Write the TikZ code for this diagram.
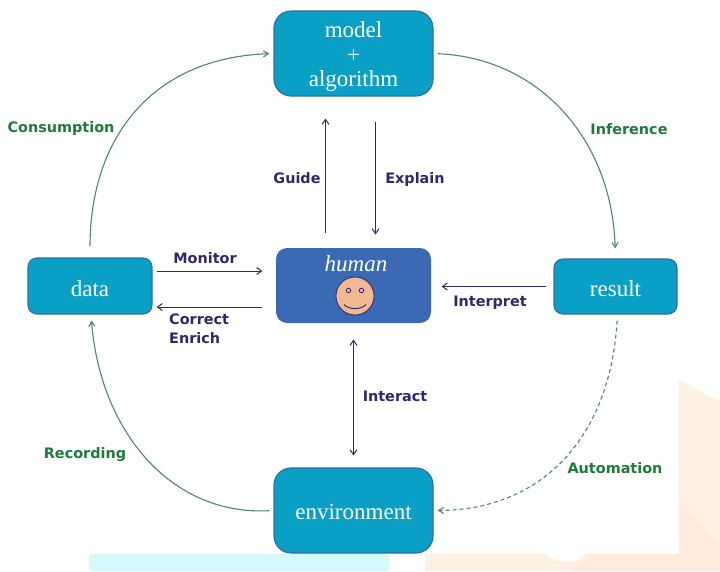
\documentclass[tikz,border=0pt]{standalone}
\usepackage{fontspec}
\setmainfont{Liberation Serif}
\newfontfamily\labelfont{DejaVu Sans}
\usetikzlibrary{arrows.meta}
\definecolor{boxfill}{HTML}{0AA0C6}
\definecolor{boxline}{HTML}{2E6CA6}
\definecolor{humanfill}{HTML}{3C69B3}
\definecolor{facefill}{HTML}{F2B88F}
\definecolor{labgreen}{HTML}{1F7A3C}
\definecolor{labpurple}{HTML}{30276F}
\definecolor{curvegreen}{HTML}{4F8A60}
\definecolor{peach}{HTML}{FFF0E4}
\definecolor{peachb}{HTML}{FFEBDD}
\definecolor{pale}{HTML}{D2FAFF}
\newcommand{\lowered}[2]{\raisebox{-#1}[\height][\depth]{#2}}
\tikzset{
  x=1pt,y=-1pt,
  bluebox/.style={draw=boxline,line width=1.1pt,fill=boxfill,text=white,align=center,inner sep=0pt,font=\fontsize{23}{24.5}\selectfont},
  greenlab/.style={text=labgreen,font=\labelfont\bfseries\fontsize{14.4}{15}\selectfont,inner sep=0pt},
  purplelab/.style={text=labpurple,font=\labelfont\bfseries\fontsize{14.4}{19}\selectfont,inner sep=0pt,align=left},
  cycle arrow/.style={draw=curvegreen,line width=1.1pt,-{Straight Barb[length=5pt,width=6pt]}},
  human arrow/.style={draw=labpurple,line width=1pt,-{Straight Barb[length=5pt,width=7pt]}},
}
\begin{document}
\begin{tikzpicture}
\useasboundingbox (0,0) rectangle (720,571);
\fill[white] (0,0) rectangle (720,571);
% background remnants
\fill[pale,rounded corners=3pt] (89,554) rectangle (389,571);
\fill[peach] (425,554) -- (545,554) .. controls (552,562) and (578,566) .. (585,554) -- (679,554) -- (679,380) -- (720,402) -- (720,571) -- (425,571) -- cycle;
\fill[peachb] (679,500) -- (720,545) -- (720,571) -- (570,571) -- (590,554) -- (679,554) -- cycle;
% boxes
\node[bluebox,minimum width=159pt,minimum height=85pt,rounded corners=17pt] (model) at (353.5,53.5) {\lowered{4pt}{\begin{tabular}{@{}c@{}}model\\+\\algorithm\end{tabular}}};
\node[bluebox,draw=none,fill=humanfill,minimum width=155pt,minimum height=75pt,rounded corners=11pt] (human) at (353.5,285.5) {};
\node[bluebox,minimum width=124pt,minimum height=56pt,rounded corners=9pt] (data) at (90,286) {\lowered{3pt}{data}};
\node[bluebox,minimum width=123pt,minimum height=55pt,rounded corners=9pt] (result) at (615.5,286.5) {\lowered{2pt}{result}};
\node[bluebox,minimum width=159pt,minimum height=85pt,rounded corners=17pt] (environment) at (353.5,510.5) {\lowered{1pt}{environment}};
% human content
\node[text=white,inner sep=0pt,font=\itshape\fontsize{23}{24}\selectfont] (humanlabel) at (356,264) {human};
\node[circle,draw=labpurple,line width=0.8pt,fill=facefill,minimum size=38pt,inner sep=0pt] (face) at (355,296) {};
\node[circle,draw=labpurple,line width=0.8pt,minimum size=4.5pt,inner sep=0pt] (eyeL) at (348.5,290.5) {};
\node[circle,draw=labpurple,line width=0.8pt,minimum size=4.5pt,inner sep=0pt] (eyeR) at (361.5,290.5) {};
\draw[labpurple,line width=0.9pt] (344,304.5) .. controls (349,310) and (361,310) .. (366,304.5);
% cycle curves
\draw[cycle arrow,shorten <=11pt,shorten >=4pt] (data.north) .. controls (90,140) and (150,58) .. (model.west);
\draw[cycle arrow,shorten <=4pt,shorten >=10pt] (model.east) .. controls (540,58) and (612,140) .. (result.north);
\draw[cycle arrow,shorten <=4pt,shorten >=6pt] (environment.west) .. controls (170,516) and (100,430) .. ([xshift=1pt]data.south);
\draw[cycle arrow,dashed,dash pattern=on 4pt off 3pt,shorten <=6pt,shorten >=4pt] ([xshift=2pt]result.south) .. controls (610,440) and (540,510) .. (environment.east);
% human arrows
\draw[human arrow,shorten <=14pt,shorten >=22pt] ([xshift=-28pt]human.north) -- ([xshift=-28pt]model.south);
\draw[human arrow,shorten <=25pt,shorten >=13pt] ([xshift=22pt]model.south) -- ([xshift=22pt]human.north);
\draw[human arrow,shorten <=4pt,shorten >=13pt] ([yshift=15pt]data.east) -- ([yshift=14.5pt]human.west);
\draw[human arrow,shorten <=13pt,shorten >=4pt] ([yshift=-21.5pt]human.west) -- ([yshift=-21pt]data.east);
\draw[human arrow,shorten <=7pt,shorten >=10pt] (result.west) -- (human.east |- result.west);
\draw[draw=labpurple,line width=1pt,{Straight Barb[length=5pt,width=7pt]}-{Straight Barb[length=5pt,width=7pt]},shorten <=16pt,shorten >=12pt] (human.south) -- (environment.north);
% labels
\node[greenlab] (consumption) at (61,129) {Consumption};
\node[greenlab] (inference) at (629,129) {Inference};
\node[greenlab] (recording) at (85,455) {Recording};
\node[greenlab] (automation) at (615,468.5) {Automation};
\node[purplelab] (guide) at (297,178.5) {Guide};
\node[purplelab] (explain) at (415,180) {Explain};
\node[purplelab] (monitor) at (205,258.5) {Monitor};
\node[purplelab,anchor=north west] (correct) at (169,314) {Correct\\Enrich};
\node[purplelab] (interpret) at (490,303) {Interpret};
\node[purplelab] (interact) at (395,396.5) {Interact};
\end{tikzpicture}
\end{document}
